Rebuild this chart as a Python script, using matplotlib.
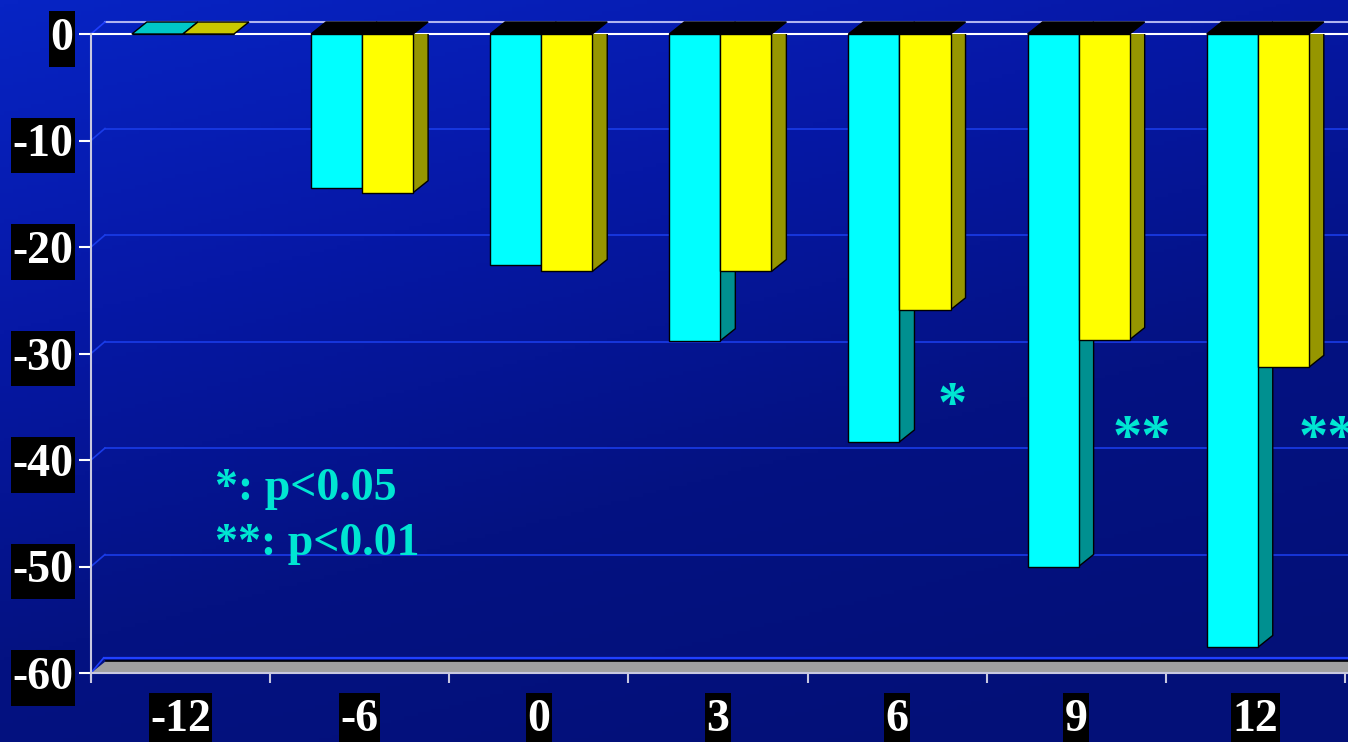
import numpy as np
import matplotlib.pyplot as plt
from matplotlib.patches import Polygon
from matplotlib.path import Path
from matplotlib.colors import LinearSegmentedColormap

# months relative to start, and the change in each group (%)
months = ['-12', '-6', '0', '3', '6', '9', '12']
group_a = [0.0, -14.5, -21.7, -28.8, -38.3, -50.0, -57.6]
group_b = [0.0, -14.9, -22.3, -22.3, -25.9, -28.7, -31.3]
y_ticks = [0, -10, -20, -30, -40, -50, -60]
stars = {4: '*', 5: '**', 6: '**'}

W, H = 1348, 742
fig = plt.figure(figsize=(W / 100, H / 100), dpi=100)

# background gradient, bright blue top-left to navy bottom-right
bg = fig.add_axes([0, 0, 1, 1], zorder=-10)
gx, gy = np.meshgrid(np.linspace(0, 1, 300), np.linspace(0, 1, 200))
t = np.clip(0.35 * gx + 0.75 * gy, 0, 1)
cmap = LinearSegmentedColormap.from_list('bg', ['#0724c4', '#0618a6', '#041282', '#031078'])
bg.imshow(t, cmap=cmap, aspect='auto', extent=[0, 1, 0, 1], origin='upper')
bg.axis('off')

left, right, top, bottom = 91, 1345, 34, 673
ax = fig.add_axes([left / W, 1 - bottom / H, (right - left) / W, (bottom - top) / H])
ax.set_xlim(0, 7)
ax.set_ylim(-60, 0)
ax.patch.set_alpha(0)
for s in ax.spines.values():
    s.set_visible(False)

px_x = 7 / (right - left)
px_y = 60 / (bottom - top)

# back wall and floor
wdx, wdy = 14 * px_x, 12 * px_y
xend = 7 + 20 * px_x
for v in y_ticks:
    if v == 0:
        ax.plot([0, xend], [0, 0], color='white', lw=1.5, clip_on=False, zorder=3)
        ax.plot([wdx, xend], [wdy, wdy], color='#b0b4f0', lw=1.5, clip_on=False, zorder=1)
        ax.plot([0, wdx], [0, wdy], color='#2040ff', lw=1.2, clip_on=False, zorder=1)
    elif v == -60:
        ax.add_patch(Polygon([[0, -60], [xend, -60], [xend, -60 + wdy], [wdx * 1.1, -60 + wdy]],
                             closed=True, facecolor='#a0a0a0', edgecolor='none', clip_on=False, zorder=1))
        ax.plot([wdx * 1.1, xend], [-60 + wdy, -60 + wdy], color='black', lw=1.2, clip_on=False, zorder=1)
        ax.plot([wdx * 0.9, xend], [-60 + wdy + 3 * px_y] * 2, color='#2040ff', lw=1.6, clip_on=False, zorder=1)
        ax.plot([0, wdx * 0.9], [-60, -60 + wdy + 3 * px_y], color='#2040ff', lw=1.2, clip_on=False, zorder=1)
        ax.plot([0, xend], [-60, -60], color='#c8c8e0', lw=1.5, clip_on=False, zorder=3)
    else:
        ax.plot([wdx, xend], [v + wdy, v + wdy], color='#1a3ce8', lw=1.2, clip_on=False, zorder=1)
        ax.plot([0, wdx], [v, v + wdy], color='#1a3ce8', lw=1.2, clip_on=False, zorder=1)
ax.plot([0, 0], [0, -60.6], color='#c8c8e0', lw=1.5, clip_on=False, zorder=3)

# 3d bars hanging from zero
bw = 0.285
bdx, bdy = 15 * px_x, 12 * px_y
front = ['#00ffff', '#ffff00']
side = ['#009090', '#969600']
flat = ['#00c8c8', '#c8c800']
for i in range(len(months)):
    c = i + 0.5
    for k, vals in enumerate([group_a, group_b]):
        x0 = c - 0.272 + k * bw
        x1 = x0 + bw
        v = vals[i]
        z = 4 + k * 2
        ax.add_patch(Polygon([[x1, 0], [x1 + bdx, bdy], [x1 + bdx, v + bdy], [x1, v]],
                             closed=True, facecolor=side[k], edgecolor='black', lw=1, zorder=z))
        ax.add_patch(Polygon([[x0, 0], [x1, 0], [x1 + bdx, bdy], [x0 + bdx, bdy]],
                             closed=True, facecolor=flat[k] if v == 0 else 'black',
                             edgecolor='black', lw=1, clip_on=False, zorder=z))
        ax.bar(x0, v, width=bw, align='edge', color=front[k], edgecolor='black', lw=1, zorder=z + 1)

# significance marks
cyan_txt = '#00e6d2'
star_pos = {4: (0.728, -36.3), 5: (0.70, -39.4), 6: (0.74, -39.4)}
for i, s in stars.items():
    dx, y = star_pos[i]
    ax.text(i + dx, y, s, color=cyan_txt, fontsize=42, fontweight='bold',
            family='Liberation Serif', ha='left', va='baseline', clip_on=False)
ax.text(0.692, -43.8, '*: p<0.05', color=cyan_txt, fontsize=33, fontweight='bold',
        family='Liberation Serif', ha='left', va='baseline')
ax.text(0.692, -48.9, '**: p<0.01', color=cyan_txt, fontsize=33, fontweight='bold',
        family='Liberation Serif', ha='left', va='baseline')


def label_box(x0, y0, width, height, mutation_size):
    # black box, narrow at the sides and taller above/below the digits
    px, py = 0.03 * mutation_size, 0.15 * mutation_size
    xa, xb, ya, yb = x0 - px, x0 + width + px, y0 - py, y0 + height + py
    return Path([[xa, ya], [xb, ya], [xb, yb], [xa, yb], [xa, ya]],
                [Path.MOVETO, Path.LINETO, Path.LINETO, Path.LINETO, Path.CLOSEPOLY])


# axes ticks and labels
box = dict(boxstyle=label_box, facecolor='black', edgecolor='none')
ax.set_yticks(y_ticks)
ax.set_yticklabels([str(v) for v in y_ticks])
ax.tick_params(axis='y', length=8.6, width=1.5, color='white', pad=4)
ax.set_xticks(np.arange(0, 8))
ax.set_xticklabels([])
ax.set_xticks(np.arange(len(months)) + 0.5, minor=True)
ax.set_xticklabels(months, minor=True)
ax.tick_params(axis='x', which='major', length=7, width=1.5, color='#c8c8e0')
ax.tick_params(axis='x', which='minor', length=0, pad=19)
for lab in ax.get_yticklabels() + ax.get_xticklabels(minor=True):
    lab.set_fontsize(33)
    lab.set_fontweight('bold')
    lab.set_family('Liberation Serif')
    lab.set_color('white')
    lab.set_bbox(box)

fig.savefig('out.png', dpi=100)
